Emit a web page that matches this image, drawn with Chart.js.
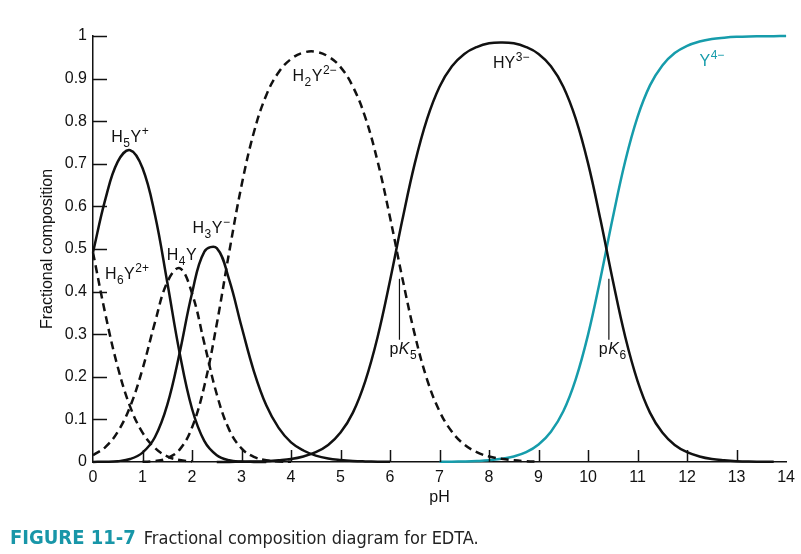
<!DOCTYPE html>
<html>
<head>
<meta charset="utf-8">
<script src="https://cdn.jsdelivr.net/npm/chart.js@4.4.1/dist/chart.umd.min.js"></script>
<style>
  body { margin: 0; background: #fff; }
  #wrap { position: relative; width: 801px; height: 554px; }
  #caption {
    position: absolute; left: 10px; top: 525px;
    font-family: 'Liberation Sans Narrow', 'DejaVu Sans Condensed', sans-serif;
    font-size: 18px; color: #222; white-space: nowrap;
  }
  #caption b { color: #1896a8; font-size: 20px; margin-right: 8px; }
</style>
</head>
<body>
<div id="wrap">
  <canvas id="chart" width="801" height="554"></canvas>
  <div id="caption"><b>FIGURE 11-7</b>Fractional composition diagram for EDTA.</div>
</div>
<script>
// pH grid shared by all curves
const pH = [0, 0.25, 0.5, 0.75, 1, 1.25, 1.5, 1.75, 2, 2.25, 2.5, 2.75, 3, 3.25, 3.5, 3.75,
  4, 4.25, 4.5, 4.75, 5, 5.25, 5.5, 5.75, 6, 6.25, 6.5, 6.75, 7, 7.25, 7.5, 7.75,
  8, 8.25, 8.5, 8.75, 9, 9.25, 9.5, 9.75, 10, 10.25, 10.5, 10.75, 11, 11.25, 11.5, 11.75,
  12, 12.25, 12.5, 12.75, 13, 13.25, 13.5, 13.75, 14];

// fractional composition, each list starts at the pH noted
const H6Y = [0.492, 0.347, 0.223, 0.130, 0.069, 0.033, 0.013, 0.0045, 0.0013];            // from pH 0
const H5Y = [0.492, 0.617, 0.705, 0.732, 0.690, 0.581, 0.422, 0.256, 0.125, 0.049,
  0.016, 0.004, 0.001, 0.0002, 0];                                                          // from pH 0
const H4Y = [0.016, 0.035, 0.071, 0.130, 0.218, 0.327, 0.422, 0.455, 0.396, 0.278,
  0.159, 0.076, 0.032, 0.012, 0.004, 0.001, 0.0005];                                        // from pH 0
const H3Y = [0.0002, 0.0006, 0.002, 0.007, 0.022, 0.058, 0.134, 0.256, 0.396, 0.494,
  0.502, 0.428, 0.318, 0.213, 0.133, 0.080, 0.046, 0.027, 0.015, 0.008,
  0.0045, 0.0024, 0.0013, 0.0006, 0.0003];                                                  // from pH 0
const H2Y = [0.0005, 0.002, 0.009, 0.029, 0.081, 0.179, 0.324, 0.492, 0.649, 0.774,
  0.861, 0.915, 0.946, 0.961, 0.963, 0.952, 0.927, 0.881, 0.809, 0.705,
  0.574, 0.431, 0.299, 0.193, 0.119, 0.071, 0.041, 0.023, 0.013, 0.0075,
  0.004, 0.002, 0.001];                                                                     // from pH 1
const HY = [0.0001, 0.0002, 0.0005, 0.001, 0.002, 0.004, 0.007, 0.013, 0.023, 0.040,
  0.069, 0.116, 0.190, 0.294, 0.426, 0.569, 0.701, 0.806, 0.881, 0.929,
  0.958, 0.974, 0.983, 0.985, 0.983, 0.974, 0.958, 0.929, 0.881, 0.806,
  0.701, 0.569, 0.426, 0.294, 0.190, 0.116, 0.069, 0.040, 0.023, 0.013,
  0.007, 0.004, 0.002, 0.001, 0.0007, 0.0004];                                             // from pH 2.5
const Y4 = [0.0004, 0.0007, 0.0013, 0.0023, 0.004, 0.0075, 0.013, 0.023, 0.041, 0.071,
  0.119, 0.194, 0.299, 0.431, 0.574, 0.706, 0.810, 0.884, 0.931, 0.960,
  0.977, 0.987, 0.993, 0.996, 0.998, 0.999, 0.9993, 0.9996, 0.9998];                        // from pH 7

const xTicks = [0, 1, 2, 3, 4, 5, 6, 7, 8, 9, 10, 11, 12, 13, 14];
const yTicks = [0, 0.1, 0.2, 0.3, 0.4, 0.5, 0.6, 0.7, 0.8, 0.9, 1];
const pK = [{ name: '5', pH: 6.19 }, { name: '6', pH: 10.42 }];

const INK = '#111';
const TEAL = '#169cab';
const FONT = "'Liberation Sans', Arial, sans-serif";

const pts = (startPH, values) => {
  const i0 = pH.indexOf(startPH);
  return values.map((v, k) => ({ x: pH[i0 + k], y: v }));
};

const line = (data, dashed, color) => ({
  data,
  borderColor: color || INK,
  borderWidth: 2.5,
  borderDash: dashed ? [8, 5] : [],
  pointRadius: 0,
  tension: 0.4,
  fill: false,
  clip: false
});

// species labels: [pH, fraction] of text start, then text parts
const labels = [
  { at: [0.37, 0.752], parts: [['H'], ['5', 'sub'], ['Y'], ['+', 'sup']] },
  { at: [0.24, 0.43], parts: [['H'], ['6', 'sub'], ['Y'], ['2+', 'sup']] },
  { at: [1.49, 0.474], parts: [['H'], ['4', 'sub'], ['Y']] },
  { at: [2.01, 0.538], parts: [['H'], ['3', 'sub'], ['Y'], ['\u2212', 'sup']] },
  { at: [4.03, 0.894], parts: [['H'], ['2', 'sub'], ['Y'], ['2\u2212', 'sup']] },
  { at: [8.08, 0.926], parts: [['HY'], ['3\u2212', 'sup']] },
  { at: [12.25, 0.93], parts: [['Y'], ['4\u2212', 'sup']], color: TEAL }
];

const drawRich = (ctx, x, y, parts, color) => {
  ctx.fillStyle = color || INK;
  ctx.textAlign = 'left';
  ctx.textBaseline = 'alphabetic';
  let cx = x;
  parts.forEach(([t, mode]) => {
    let dy = 0;
    if (mode === 'sub') { ctx.font = `12px ${FONT}`; dy = 5; }
    else if (mode === 'sup') { ctx.font = `12px ${FONT}`; dy = -7; }
    else if (mode === 'it') { ctx.font = `italic 16px ${FONT}`; }
    else { ctx.font = `16px ${FONT}`; }
    ctx.fillText(t, cx, y + dy);
    cx += ctx.measureText(t).width + 0.5;
  });
};

const decor = {
  id: 'decor',
  afterDatasetsDraw(chart) {
    const { ctx, scales: { x, y } } = chart;
    ctx.save();
    ctx.strokeStyle = INK;
    ctx.lineWidth = 1.5;
    ctx.beginPath();
    xTicks.slice(1, -1).forEach(v => {
      const px = Math.round(x.getPixelForValue(v)) + 0.5;
      ctx.moveTo(px, y.bottom);
      ctx.lineTo(px, y.bottom - 12);
    });
    yTicks.slice(1).forEach(v => {
      const py = Math.round(y.getPixelForValue(v)) + 0.5;
      ctx.moveTo(x.left, py);
      ctx.lineTo(x.left + 14, py);
    });
    ctx.stroke();

    // pK markers
    ctx.lineWidth = 1.2;
    pK.forEach(k => {
      const px = x.getPixelForValue(k.pH);
      ctx.beginPath();
      ctx.moveTo(px, y.getPixelForValue(0.43));
      ctx.lineTo(px, y.getPixelForValue(0.287));
      ctx.stroke();
      drawRich(ctx, px - 10, y.getPixelForValue(0.254), [['p'], ['K', 'it'], [k.name, 'sub']]);
    });

    labels.forEach(l => {
      drawRich(ctx, x.getPixelForValue(l.at[0]), y.getPixelForValue(l.at[1]), l.parts, l.color);
    });
    ctx.restore();
  }
};

new Chart(document.getElementById('chart'), {
  type: 'line',
  data: {
    datasets: [
      line(pts(0, H6Y), true),
      line(pts(0, H5Y), false),
      line(pts(0, H4Y), true),
      line(pts(0, H3Y), false),
      line(pts(1, H2Y), true),
      line(pts(2.5, HY), false),
      line(pts(7, Y4), false, TEAL)
    ]
  },
  options: {
    responsive: false,
    animation: false,
    events: [],
    layout: { padding: { top: 36, right: 4, left: 0, bottom: 0 }, autoPadding: false },
    plugins: { legend: { display: false }, tooltip: { enabled: false } },
    scales: {
      x: {
        type: 'linear', min: 0, max: 14,
        afterFit: s => { s.height = 92; },
        afterBuildTicks: s => { s.ticks = xTicks.map(v => ({ value: v })); },
        grid: { display: false, drawTicks: false, tickLength: 0 },
        border: { display: true, color: INK, width: 1.5 },
        ticks: { padding: 6, autoSkip: false, maxRotation: 0, color: INK, font: { size: 16, family: FONT } },
        title: { display: true, text: 'pH', color: INK, font: { size: 16, family: FONT }, padding: { top: 0, bottom: 47 } }
      },
      y: {
        min: 0, max: 1,
        afterFit: s => { s.width = 93; },
        afterBuildTicks: s => { s.ticks = yTicks.map(v => ({ value: v })); },
        grid: { display: false, drawTicks: false, tickLength: 0 },
        border: { display: true, color: INK, width: 1.5 },
        ticks: { padding: 6, color: INK, font: { size: 16, family: FONT }, callback: v => String(+v.toFixed(1)) },
        title: { display: true, text: 'Fractional composition', color: INK, font: { size: 16, family: FONT }, padding: { top: 38, bottom: 0 } }
      }
    }
  },
  plugins: [decor]
});
</script>
</body>
</html>
